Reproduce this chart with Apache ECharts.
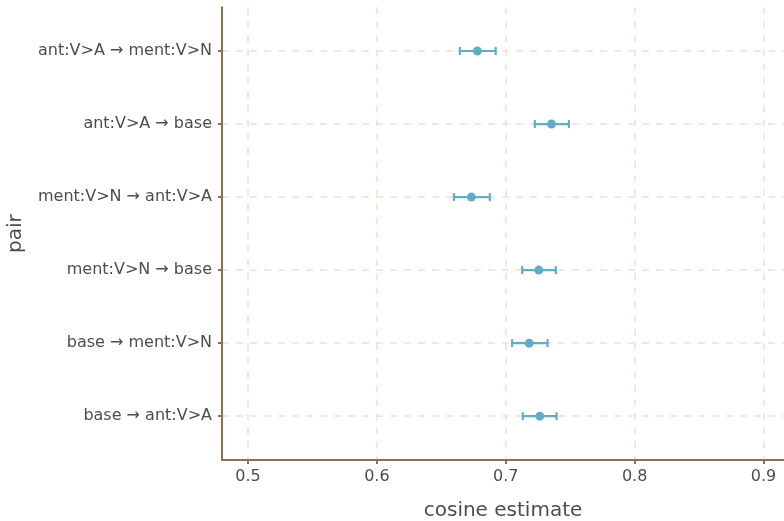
<!DOCTYPE html>
<html>
<head>
<meta charset="utf-8">
<script src="https://cdn.jsdelivr.net/npm/echarts@6/dist/echarts.min.js"></script>
<style>
html,body{margin:0;padding:0;background:#fff;}
#chart{width:784px;height:521px;}
</style>
</head>
<body>
<div id="chart"></div>
<script>
const categories = ['ant:V>A \u2192 ment:V>N','ant:V>A \u2192 base','ment:V>N \u2192 ant:V>A','ment:V>N \u2192 base','base \u2192 ment:V>N','base \u2192 ant:V>A'];
const estimates = [0.678, 0.7355, 0.6733, 0.7256, 0.7181, 0.7264];
const lows = [0.6643, 0.7225, 0.6598, 0.7127, 0.7049, 0.7132];
const highs = [0.6922, 0.749, 0.6876, 0.7388, 0.7324, 0.7394];
const xTicks = [0.5, 0.6, 0.7, 0.8, 0.9];

const positions = categories.map((c, i) => i + 1);
const pointData = estimates.map((v, i) => [v, positions[i]]);
const barData = estimates.map((v, i) => [lows[i], highs[i], positions[i]]);

const axisColor = '#8B7152';
const gridColor = '#F0E1D3';
const textColor = '#4D4D4D';
const pointColor = '#62ADC4';
const font = 'DejaVu Sans, sans-serif';

const chart = echarts.init(document.getElementById('chart'));
chart.setOption({
  animation: false,
  grid: {left: 222, right: 0, top: 7.2, bottom: 61, containLabel: false, outerBoundsMode: 'none'},
  xAxis: {
    type: 'value', min: 0.4798, max: 0.9159,
    name: 'cosine estimate', nameLocation: 'middle', nameGap: 41,
    nameTextStyle: {color: textColor, fontSize: 20, fontFamily: font},
    axisLine: {show: true, lineStyle: {color: axisColor, width: 2}},
    axisTick: {show: true, length: 4, customValues: xTicks, lineStyle: {color: axisColor, width: 2}},
    axisLabel: {customValues: xTicks, color: textColor, fontSize: 16, fontFamily: font, margin: 9,
      formatter: v => String(v)},
    splitLine: {show: true, lineStyle: {color: gridColor, width: 1.5, type: [7, 7]}}
  },
  yAxis: {
    type: 'value', min: 0.4, max: 6.6, inverse: true,
    name: 'pair', nameLocation: 'middle', nameGap: 196, nameRotate: 90,
    nameTextStyle: {color: textColor, fontSize: 20, fontFamily: font},
    axisLine: {show: true, lineStyle: {color: axisColor, width: 2}},
    axisTick: {show: true, length: 4, customValues: positions, lineStyle: {color: axisColor, width: 2}},
    axisLabel: {customValues: positions, color: textColor, fontSize: 16, fontFamily: font, margin: 10,
      formatter: v => categories[Math.round(v) - 1] || ''},
    splitLine: {show: true, lineStyle: {color: gridColor, width: 1.5, type: [7, 7]}}
  },
  series: [
    {
      type: 'custom',
      data: barData,
      encode: {x: [0, 1], y: 2},
      renderItem: function (params, api) {
        const y = api.value(2);
        const p1 = api.coord([api.value(0), y]);
        const p2 = api.coord([api.value(1), y]);
        const h = 4;
        const style = {stroke: pointColor, lineWidth: 2.2};
        return {
          type: 'group',
          children: [
            {type: 'line', shape: {x1: p1[0], y1: p1[1], x2: p2[0], y2: p2[1]}, style: style},
            {type: 'line', shape: {x1: p1[0], y1: p1[1] - h, x2: p1[0], y2: p1[1] + h}, style: style},
            {type: 'line', shape: {x1: p2[0], y1: p2[1] - h, x2: p2[0], y2: p2[1] + h}, style: style}
          ]
        };
      },
      z: 3
    },
    {
      type: 'scatter',
      data: pointData,
      symbol: 'circle',
      symbolSize: 9,
      itemStyle: {color: pointColor, opacity: 1},
      z: 4
    }
  ]
});
</script>
</body>
</html>
